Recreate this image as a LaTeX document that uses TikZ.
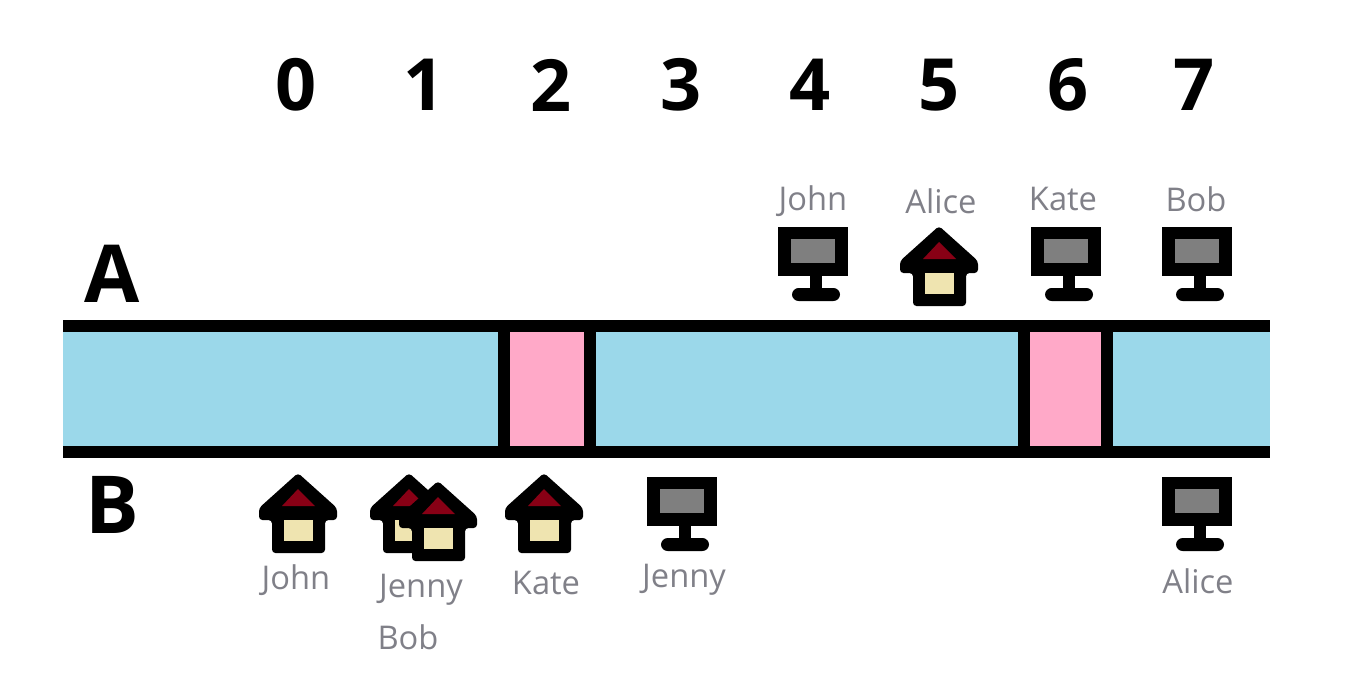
\documentclass[tikz,border=0pt]{standalone}
\usepackage{fontspec}
\setmainfont{Open Sans}
\definecolor{bandblue}{HTML}{9BD8EA}
\definecolor{bandpink}{HTML}{FFA9C8}
\definecolor{roofred}{HTML}{880015}
\definecolor{wallcream}{HTML}{EFE4B0}
\definecolor{screengrey}{HTML}{7F7F7F}
\definecolor{labelgrey}{HTML}{808088}
\tikzset{
  x=0.75pt,y=-0.75pt,
  digit/.style={font=\bfseries\fontsize{54}{59}\selectfont,text=black,inner sep=0pt,anchor=center},
  rowname/.style={font=\bfseries\fontsize{60}{65}\selectfont,text=black,inner sep=0pt,anchor=center},
  who/.style={font=\fontsize{24.5}{28}\selectfont,text=labelgrey,inner sep=0pt,anchor=center},
  house/.pic={
    \fill[black,rounded corners=2.6pt] (0,-1) -- (39,34) -- (39,46) -- (27,46) -- (27,79) -- (-26,79) -- (-26,46) -- (-39,46) -- (-39,34) -- cycle;
    \fill[roofred] (0,15) -- (17,32) -- (-16,32) -- cycle;
    \fill[wallcream] (-14,46) rectangle (15,67);
  },
  monitor/.pic={
    \fill[black] (0,0) rectangle (70,49);
    \fill[screengrey] (13,12) rectangle (57,36);
    \fill[black] (32,49) rectangle (44,63);
    \fill[black,rounded corners=5pt] (14,61) rectangle (62,74);
  }
}
\begin{document}
\begin{tikzpicture}
\useasboundingbox (0,0) rectangle (1355,672);
% band
\fill[bandblue] (63,326) rectangle (1270,452);
\fill[bandpink] (504,326) rectangle (590,452);
\fill[bandpink] (1024,326) rectangle (1107,452);
\fill[black] (63,320) rectangle (1270,332);
\fill[black] (63,446) rectangle (1270,458);
\fill[black] (498,320) rectangle (510,458);
\fill[black] (584,320) rectangle (596,458);
\fill[black] (1018,320) rectangle (1030,458);
\fill[black] (1101,320) rectangle (1113,458);
% column numbers
\node[digit] (n0) at (296,85) {0};
\node[digit] (n1) at (424,85) {1};
\node[digit] (n2) at (551,85) {2};
\node[digit] (n3) at (681,85) {3};
\node[digit] (n4) at (810,85) {4};
\node[digit] (n5) at (939,85) {5};
\node[digit] (n6) at (1068,85) {6};
\node[digit] (n7) at (1194,85) {7};
% rows
\node[rowname] (rowA) at (112,274) {A};
\node[rowname] (rowB) at (112,505) {B};
% icons
\pic at (778,227) {monitor};
\pic at (939,227) {house};
\pic at (1031,227) {monitor};
\pic at (1162,227) {monitor};
\pic at (298,474) {house};
\pic at (409,474) {house};
\pic at (438,482) {house};
\pic at (544,474) {house};
\pic at (647,477) {monitor};
\pic at (1162,477) {monitor};
% labels
\node[who] (l1) at (813,201) {John};
\node[who] (l2) at (941,201) {Alice};
\node[who] (l3) at (1063,199) {Kate};
\node[who] (l4) at (1196,199) {Bob};
\node[who] (l5) at (296,580) {John};
\node[who] (l6) at (421,590) {Jenny};
\node[who] (l7) at (408,637) {Bob};
\node[who] (l8) at (546,583) {Kate};
\node[who] (l9) at (684,580) {Jenny};
\node[who] (l10) at (1198,581) {Alice};
\end{tikzpicture}
\end{document}
